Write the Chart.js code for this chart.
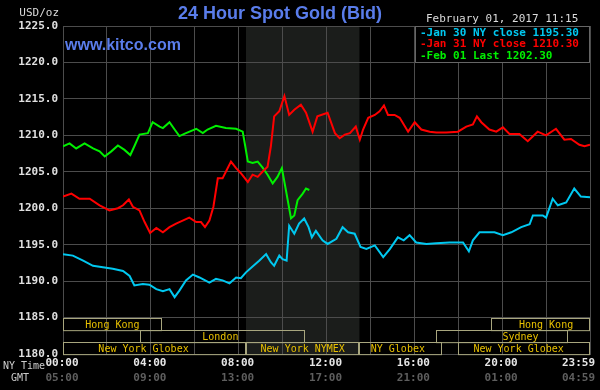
<!DOCTYPE html>
<html>
<head>
<meta charset="utf-8">
<script src="https://cdn.jsdelivr.net/npm/chart.js@4/dist/chart.umd.min.js"></script>
<style>
  html, body { margin: 0; padding: 0; background: #000; }
  canvas { display: block; }
</style>
</head>
<body>
<canvas id="goldChart" width="600" height="390"></canvas>
<script>
// ข้อมูลราคาทองคำ (นาทีนับจาก 00:00 เวลานิวยอร์ก)
const jan30Minutes = [0, 27, 55, 82, 109, 136, 164, 182, 195, 218, 236, 255, 273, 291, 305, 318, 336, 355, 373, 400, 418, 436, 455, 473, 486, 500, 518, 536, 555, 568, 577, 591, 600, 611, 618, 632, 645, 659, 671, 680, 691, 709, 723,
  747, 764, 779, 797, 813, 829, 852, 875, 893, 915, 931, 947, 965, 993, 1020, 1056, 1093, 1109, 1120, 1138, 1156, 1179, 1202, 1225, 1252, 1275, 1284, 1311, 1320, 1338, 1352, 1375, 1397, 1415, 1440];
const jan30Values = [1193.7, 1193.5, 1192.8, 1192.1, 1191.9, 1191.7, 1191.4, 1190.7, 1189.4, 1189.6, 1189.5, 1188.9, 1188.6, 1188.9, 1187.8, 1188.7, 1190.1, 1190.9, 1190.5, 1189.8, 1190.3, 1190.1, 1189.7, 1190.5, 1190.4, 1191.2, 1192.0, 1192.8, 1193.7, 1192.6, 1192.1, 1193.5, 1193.0, 1192.8, 1197.6, 1196.5, 1197.9, 1198.6, 1197.4, 1196.0, 1196.9, 1195.6, 1195.1,
  1195.8, 1197.4, 1196.7, 1196.5, 1194.7, 1194.4, 1194.9, 1193.3, 1194.4, 1196.0, 1195.6, 1196.3, 1195.3, 1195.1, 1195.2, 1195.3, 1195.3, 1194.1, 1195.6, 1196.7, 1196.7, 1196.7, 1196.3, 1196.7, 1197.4, 1197.8, 1199.0, 1199.0, 1198.7, 1201.3, 1200.4, 1200.8, 1202.7, 1201.6, 1201.5];

const jan31Minutes = [0, 23, 45, 73, 100, 127, 150, 164, 180, 191, 209, 223, 238, 255, 273, 291, 309, 327, 345, 364, 377, 388, 400, 411, 423, 436, 445, 459, 473, 486, 505, 518, 532, 545, 559, 568, 577, 591, 605, 618, 632, 650, 664, 682, 695, 723,
  743, 756, 770, 784, 800, 811, 820, 834, 852, 865, 877, 888, 906, 920, 943, 961, 979, 1002, 1020, 1047, 1079, 1102, 1120, 1131, 1143, 1165, 1184, 1202, 1220, 1247, 1270, 1297, 1320, 1347, 1370, 1388, 1411, 1425, 1440];
const jan31Values = [1201.6, 1202.0, 1201.3, 1201.3, 1200.4, 1199.7, 1200.0, 1200.4, 1201.2, 1200.2, 1199.7, 1198.1, 1196.6, 1197.3, 1196.7, 1197.4, 1197.9, 1198.3, 1198.7, 1198.1, 1198.1, 1197.4, 1198.3, 1200.2, 1204.1, 1204.1, 1205.0, 1206.4, 1205.5, 1204.8, 1203.6, 1204.6, 1204.3, 1205.0, 1205.7, 1208.5, 1212.6, 1213.3, 1215.4, 1212.8, 1213.5, 1214.2, 1213.1, 1210.5, 1212.6, 1213.1,
  1210.3, 1209.6, 1210.1, 1210.3, 1211.2, 1209.4, 1210.8, 1212.4, 1212.8, 1213.3, 1214.1, 1212.8, 1212.8, 1212.4, 1210.5, 1211.8, 1210.8, 1210.5, 1210.4, 1210.4, 1210.5, 1211.2, 1211.5, 1212.6, 1211.8, 1210.8, 1210.5, 1211.1, 1210.2, 1210.2, 1209.2, 1210.5, 1210.0, 1210.9, 1209.4, 1209.5, 1208.7, 1208.5, 1208.7];

const feb01Minutes = [0, 18, 36, 59, 82, 100, 114, 132, 150, 168, 184, 195, 209, 232, 245, 264, 273, 291, 305, 318, 336, 364, 382, 395, 418, 445, 473, 491, 498, 505, 518, 532, 545, 559, 573, 586, 598, 609, 623, 632, 641, 655, 664, 673];
const feb01Values = [1208.5, 1208.9, 1208.2, 1208.9, 1208.2, 1207.8, 1207.1, 1207.8, 1208.6, 1208.0, 1207.3, 1208.5, 1210.1, 1210.3, 1211.8, 1211.2, 1211.0, 1211.8, 1210.8, 1209.9, 1210.3, 1210.9, 1210.3, 1210.8, 1211.3, 1211.0, 1210.9, 1210.5, 1208.5, 1206.4, 1206.2, 1206.4, 1205.6, 1204.6, 1203.4, 1204.3, 1205.5, 1202.5, 1198.6, 1199.0, 1201.1, 1202.0, 1202.7, 1202.5];

// ป้ายกำกับแกน
const yTicks = [1180, 1185, 1190, 1195, 1200, 1205, 1210, 1215, 1220, 1225];
const labelMinutes = [0, 240, 480, 720, 960, 1200, 1440];
const nyTimeLabels = ['00:00', '04:00', '08:00', '12:00', '16:00', '20:00', '23:59'];
const gmtLabels = ['05:00', '09:00', '13:00', '17:00', '21:00', '01:00', '04:59'];

const legendLabels = ['Jan 30 NY close 1195.30', 'Jan 31 NY close 1210.30', 'Feb 01 Last 1202.30'];
const seriesColors = ['#00c8f0', '#ff0000', '#00f000'];

// ช่วงเวลาตลาด [ชื่อ, แถว, เริ่ม, สิ้นสุด, ตำแหน่งป้าย]
const sessionNames = ['Hong Kong', 'London', 'New York Globex', 'New York NYMEX', 'NY Globex', 'Sydney', 'New York Globex', 'Hong Kong'];
const sessionRows = [0, 1, 2, 2, 2, 1, 2, 0];
const sessionStart = [0, 210, 0, 500, 810, 1020, 1080, 1170];
const sessionEnd = [270, 660, 500, 810, 1035, 1380, 1440, 1440];
const sessionLabelAt = [135, 430, 220, 655, 915, 1250, 1245, 1320];

const nymexStart = 500;
const nymexEnd = 810;

const mono = "'DejaVu Sans Mono', monospace";
const gridColor = '#4c4c4c';

function toPoints(xs, ys) {
  return xs.map((x, i) => ({ x: x, y: ys[i] }));
}

const kitcoPlugin = {
  id: 'kitco',
  beforeDraw(chart) {
    const ctx = chart.ctx;
    const x = chart.scales.x;
    const area = chart.chartArea;
    ctx.save();
    ctx.fillStyle = '#000';
    ctx.fillRect(0, 0, chart.width, chart.height);
    // ช่วงเวลาซื้อขาย NYMEX
    ctx.fillStyle = '#1b1d1b';
    const x1 = x.getPixelForValue(nymexStart);
    const x2 = x.getPixelForValue(nymexEnd);
    ctx.fillRect(x1, area.top, x2 - x1, area.bottom - area.top);
    ctx.restore();
  },
  afterDraw(chart) {
    const ctx = chart.ctx;
    const x = chart.scales.x;
    const y = chart.scales.y;
    const area = chart.chartArea;
    ctx.save();

    // กล่องช่วงเวลาตลาด
    const rowH = (y.getPixelForValue(1180) - y.getPixelForValue(1185)) / 3;
    const rowTop = y.getPixelForValue(1185);
    ctx.font = '10px ' + mono;
    ctx.textAlign = 'center';
    ctx.textBaseline = 'middle';
    sessionNames.forEach((name, i) => {
      const left = Math.round(x.getPixelForValue(sessionStart[i])) + 0.5;
      const right = Math.round(x.getPixelForValue(sessionEnd[i])) - 0.5;
      const top = Math.round(rowTop + sessionRows[i] * rowH) + 0.5;
      ctx.strokeStyle = '#a8a67e';
      ctx.lineWidth = 1;
      ctx.strokeRect(left, top, right - left, rowH);
      ctx.fillStyle = '#e8c000';
      ctx.fillText(name, x.getPixelForValue(sessionLabelAt[i]), top + rowH / 2 + 0.5);
    });

    // กล่องคำอธิบาย
    const lx = 415, ly = area.top, lw = area.right - 415, lh = 37;
    ctx.fillStyle = '#000';
    ctx.fillRect(lx, ly, lw, lh);
    ctx.strokeStyle = '#666';
    ctx.strokeRect(lx + 0.5, ly + 0.5, lw - 1, lh - 1);
    ctx.font = 'bold 11px ' + mono;
    ctx.textAlign = 'left';
    legendLabels.forEach((label, i) => {
      ctx.fillStyle = seriesColors[i];
      ctx.fillText('-' + label, lx + 5, ly + 7 + i * 11.5);
    });

    // หัวเรื่อง
    ctx.fillStyle = '#5a7deb';
    ctx.font = "bold 18px 'Liberation Sans', Arial, sans-serif";
    ctx.textAlign = 'center';
    ctx.fillText('24 Hour Spot Gold (Bid)', 280, 14);
    ctx.font = "bold 16px 'Liberation Sans', Arial, sans-serif";
    ctx.textAlign = 'left';
    ctx.fillText('www.kitco.com', 65, 46);

    ctx.font = '11px ' + mono;
    ctx.fillStyle = '#dcdcdc';
    ctx.fillText('February 01, 2017 11:15', 426, 19);
    ctx.textAlign = 'right';
    ctx.fillText('USD/oz', 59, 13);

    // ป้ายแกนเวลา
    ctx.font = '10px ' + mono;
    ctx.fillStyle = '#cccccc';
    ctx.textAlign = 'left';
    ctx.fillText('NY Time', 3, 366);
    ctx.fillText('GMT', 11, 378);

    labelMinutes.forEach((m, i) => {
      const last = i === labelMinutes.length - 1;
      const px = x.getPixelForValue(m);
      ctx.textAlign = last ? 'right' : 'center';
      const tx = last ? px + 5 : px - 1;
      ctx.font = 'bold 11px ' + mono;
      ctx.fillStyle = '#e6e6e6';
      ctx.fillText(nyTimeLabels[i], tx, 363);
      ctx.fillStyle = '#5e5e5e';
      ctx.fillText(gmtLabels[i], tx, 378);
    });
    ctx.restore();
  }
};

const ctx = document.getElementById('goldChart').getContext('2d');
new Chart(ctx, {
  type: 'line',
  data: {
    datasets: [
      { label: legendLabels[0], data: toPoints(jan30Minutes, jan30Values), borderColor: seriesColors[0] },
      { label: legendLabels[1], data: toPoints(jan31Minutes, jan31Values), borderColor: seriesColors[1] },
      { label: legendLabels[2], data: toPoints(feb01Minutes, feb01Values), borderColor: seriesColors[2] }
    ]
  },
  options: {
    responsive: false,
    animation: false,
    devicePixelRatio: 1,
    layout: { padding: { top: 26, right: 10, left: 0, bottom: 0 } },
    elements: {
      line: { borderWidth: 2, tension: 0 },
      point: { radius: 0 }
    },
    plugins: {
      legend: { display: false },
      tooltip: { enabled: false }
    },
    scales: {
      x: {
        type: 'linear',
        min: 0,
        max: 1440,
        afterFit: scale => { scale.height = 36; },
        ticks: { stepSize: 120, display: false },
        grid: { color: gridColor, drawTicks: false },
        border: { color: gridColor }
      },
      y: {
        min: 1180,
        max: 1225,
        afterFit: scale => { scale.width = 63; },
        afterBuildTicks: scale => { scale.ticks = yTicks.map(v => ({ value: v })); },
        ticks: {
          callback: v => v.toFixed(1),
          color: '#e0e0e0',
          font: { family: mono, size: 11, weight: 'bold' },
          padding: 5
        },
        grid: { color: gridColor, drawTicks: false },
        border: { color: gridColor }
      }
    }
  },
  plugins: [kitcoPlugin]
});
</script>
</body>
</html>
